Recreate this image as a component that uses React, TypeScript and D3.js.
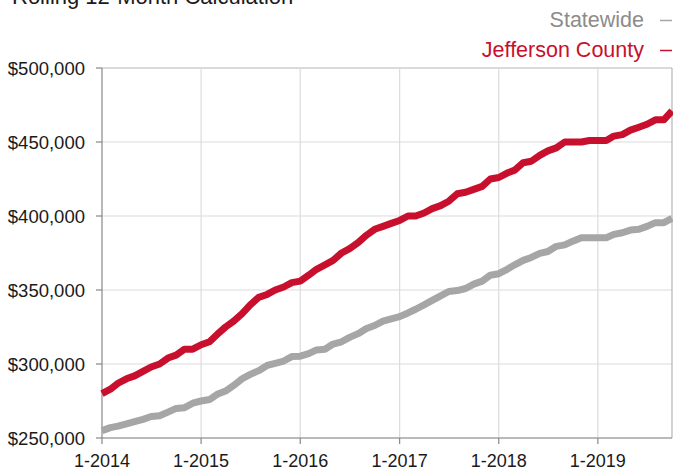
import React from "react";
import * as d3 from "d3";

// Rolling 12-month median price, Jan 2014 .. Oct 2019 (in $1000s)
const months = d3.timeMonth.range(new Date(2014, 0, 1), new Date(2019, 10, 1));

const jefferson = [
  280, 283, 287, 290, 292, 295, 298, 300, 304, 306, 310, 310,
  313, 315, 320, 325, 329, 334, 340, 345, 347, 350, 352, 355,
  356, 360, 364, 367, 370, 375, 378, 382, 387, 391, 393, 395,
  397, 400, 400, 402, 405, 407, 410, 415, 416, 418, 420, 425,
  426, 429, 431, 436, 437, 441, 444, 446, 450, 450, 450, 451,
  451, 451, 454, 455, 458, 460, 462, 465, 465, 471,
];

const statewide = [
  255, 257, 258, 259.5, 261, 262.6, 264.5, 265, 267.5, 270, 270.5, 273.5,
  275, 276, 279.5, 281.7, 285.5, 290, 293, 295.5, 299, 300.5, 302, 305,
  305.3, 307, 309.5, 310, 313.5, 315, 318, 320.5, 324, 326, 329, 330.5,
  332, 334.5, 337, 340, 343, 346, 349, 349.6, 351, 354, 356, 360,
  361, 364, 367, 370, 372, 374.8, 376, 379.5, 380.5, 383, 385.3, 385.3,
  385.3, 385.3, 387.6, 388.7, 390.5, 391, 393, 395.5, 395.5, 398.4,
];

const yTicks = [250, 300, 350, 400, 450, 500];
const xTickYears = [2014, 2015, 2016, 2017, 2018, 2019];

const series = [
  { name: "Statewide", values: statewide, color: "#a6a6a6", text: "#8c8c8c" },
  { name: "Jefferson County", values: jefferson, color: "#c8102e", text: "#c8102e" },
];

const W = 673;
const H = 470;
const margin = { top: 68, right: 1, bottom: 32, left: 102 };
const font = "'Liberation Sans', Arial, Helvetica, sans-serif";

export default function App() {
  const x = d3
    .scaleTime()
    .domain([months[0], months[months.length - 1]])
    .range([margin.left, W - margin.right]);
  const y = d3
    .scaleLinear()
    .domain([250, 500])
    .range([H - margin.bottom, margin.top]);

  const line = d3
    .line<number>()
    .x((_, i) => x(months[i]))
    .y((d) => y(d));

  const yearTicks = xTickYears.map((yr) => new Date(yr, 0, 1));
  const fmtY = (v: number) => "$" + d3.format(",")(v * 1000);
  const bottom = H - margin.bottom;

  return (
    <svg
      width={W}
      height={H}
      style={{ position: "absolute", left: 0, top: 0 }}
      fontFamily={font}
    >
      <rect width={W} height={H} fill="#fff" />
      <text x={12} y={4} fontSize={22} fill="#1a1a1a">
        Rolling 12-Month Calculation
      </text>

      {/* legend */}
      {series.map((s, i) => (
        <g key={s.name}>
          <text
            x={644}
            y={27 + i * 30}
            fontSize={21.5}
            textAnchor="end"
            fill={s.text}
          >
            {s.name}
          </text>
          <line
            x1={660}
            x2={672}
            y1={20.5 + i * 30}
            y2={20.5 + i * 30}
            stroke={s.color}
            strokeWidth={1.5}
          />
        </g>
      ))}

      {/* grid */}
      {yTicks.map((t) => (
        <line
          key={"gy" + t}
          x1={margin.left}
          x2={W - margin.right}
          y1={y(t)}
          y2={y(t)}
          stroke={t === 500 ? "#b5b5b5" : "#dcdcdc"}
          strokeWidth={1.2}
        />
      ))}
      {yearTicks.slice(1).map((d, i) => (
        <line
          key={"gx" + i}
          x1={x(d)}
          x2={x(d)}
          y1={margin.top}
          y2={bottom}
          stroke="#dcdcdc"
          strokeWidth={1.2}
        />
      ))}
      <line
        x1={W - margin.right}
        x2={W - margin.right}
        y1={margin.top}
        y2={bottom}
        stroke="#b5b5b5"
        strokeWidth={1.2}
      />

      {/* axes */}
      <line x1={margin.left} x2={margin.left} y1={margin.top} y2={bottom} stroke="#888" strokeWidth={1.2} />
      <line x1={margin.left} x2={W - margin.right} y1={bottom} y2={bottom} stroke="#888" strokeWidth={1.2} />
      {yTicks.map((t) => (
        <g key={"ty" + t}>
          <line x1={margin.left - 6} x2={margin.left} y1={y(t)} y2={y(t)} stroke="#888" strokeWidth={1.2} />
          <text
            x={85}
            y={y(t)}
            dy="0.36em"
            fontSize={18.5}
            textAnchor="end"
            fill="#1a1a1a"
          >
            {fmtY(t)}
          </text>
        </g>
      ))}
      {yearTicks.map((d, i) => (
        <g key={"tx" + i}>
          <line x1={x(d)} x2={x(d)} y1={bottom} y2={bottom + 6} stroke="#888" strokeWidth={1.2} />
          <text x={x(d)} y={467} fontSize={18} textAnchor="middle" fill="#1a1a1a">
            {d3.timeFormat("1-%Y")(d)}
          </text>
        </g>
      ))}

      {/* lines */}
      {series.map((s) => (
        <path
          key={"l" + s.name}
          d={line(s.values) || ""}
          fill="none"
          stroke={s.color}
          strokeWidth={7}
          strokeLinejoin="round"
        />
      ))}
    </svg>
  );
}
